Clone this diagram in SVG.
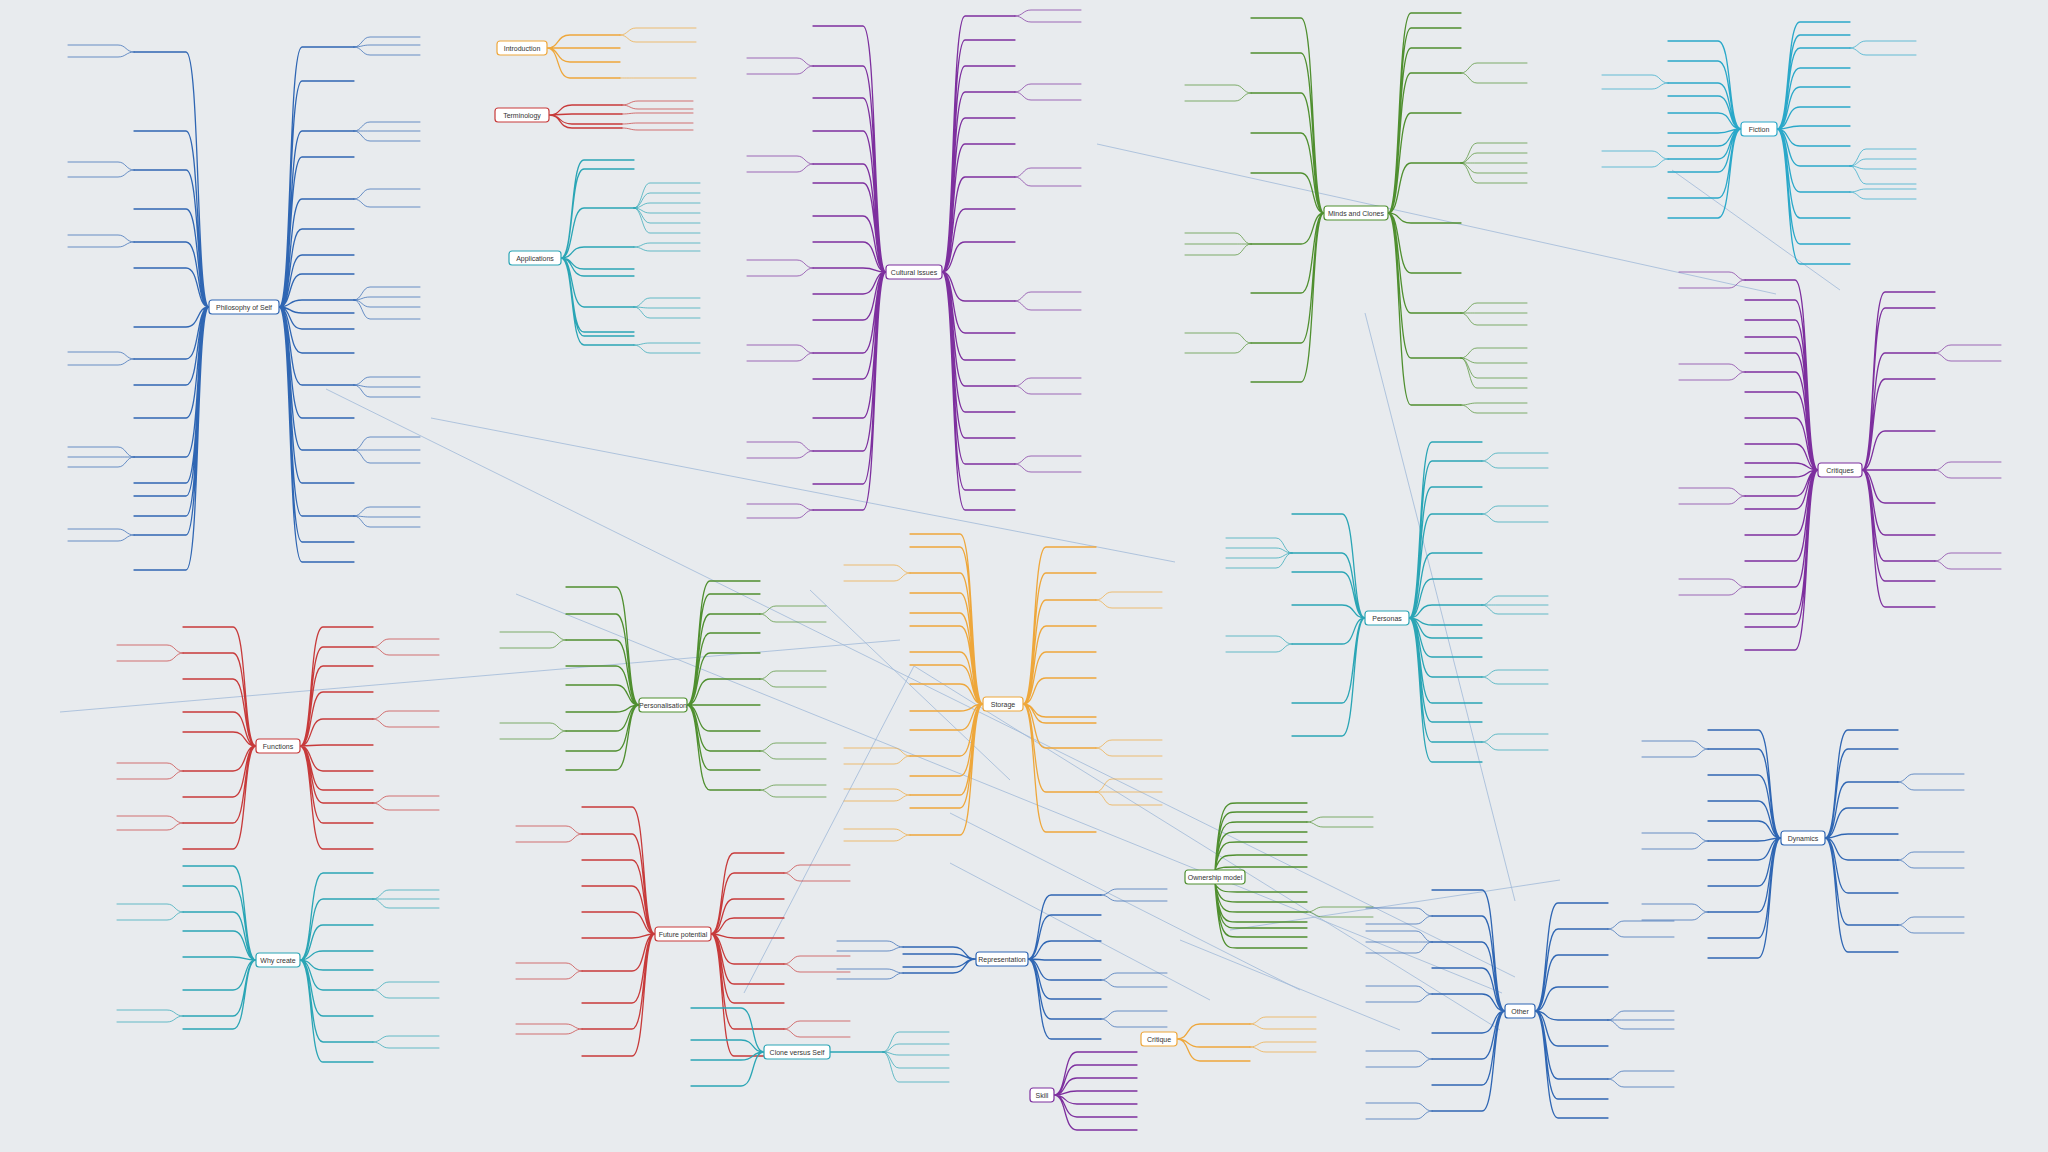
<svg xmlns="http://www.w3.org/2000/svg" width="2048" height="1152" viewBox="0 0 2048 1152">
<style>
.m{fill:none;stroke-width:1.3;stroke-linecap:round}
.s{fill:none;stroke-width:0.7;stroke-linecap:round}
.x{fill:none;stroke:#9fb9d8;stroke-width:0.8}
.box{fill:#ffffff;stroke-width:1.2}
.lbl{font-family:"Liberation Sans",Arial,sans-serif;font-size:7px;fill:#333;text-anchor:middle}
.blue{stroke:#2f66b3}.orange{stroke:#eea73b}.red{stroke:#c73a3a}.teal{stroke:#2aa5b5}.purple{stroke:#7d2f9e}.green{stroke:#4f8f2f}.cyan{stroke:#2aa8c9}
</style>
<rect width="2048" height="1152" fill="#e8ebee"/>
<g id="connectors">
<path class="x" d="M326 389L1515 977M431 418L1175 562M516 594L1502 993M1097 144L1776 294M1365 313L1515 901M744 993L914 666M914 666L1500 1030M950 813L1300 990M950 863L1210 1000M1180 940L1400 1030M1230 930L1560 880M810 590L1010 780M60 712L900 640M1672 170L1840 290"/>
</g>
<g id="n-philosophy" transform="translate(244,307)">
<path class="m blue" d="M35 0C48 0 44 -260 58 -260h52M35 0C48 0 44 -226 58 -226h52M35 0C48 0 44 -176 58 -176h52M35 0C48 0 44 -150 58 -150h52M35 0C48 0 44 -108 58 -108h52M35 0C48 0 44 -78 58 -78h52M35 0C48 0 44 -52 58 -52h52M35 0C48 0 44 -33 58 -33h52M35 0C48 0 44 -7 58 -7h52M35 0C48 0 44 6 58 6h52M35 0C48 0 44 22 58 22h52M35 0C48 0 44 46 58 46h52M35 0C48 0 44 78 58 78h52M35 0C48 0 44 111 58 111h52M35 0C48 0 44 143 58 143h52M35 0C48 0 44 176 58 176h52M35 0C48 0 44 209 58 209h52M35 0C48 0 44 235 58 235h52M35 0C48 0 44 255 58 255h52M-35 0C-48 0 -44 -255 -58 -255h-52M-35 0C-48 0 -44 -176 -58 -176h-52M-35 0C-48 0 -44 -137 -58 -137h-52M-35 0C-48 0 -44 -98 -58 -98h-52M-35 0C-48 0 -44 -65 -58 -65h-52M-35 0C-48 0 -44 -39 -58 -39h-52M-35 0C-48 0 -44 20 -58 20h-52M-35 0C-48 0 -44 52 -58 52h-52M-35 0C-48 0 -44 78 -58 78h-52M-35 0C-48 0 -44 111 -58 111h-52M-35 0C-48 0 -44 150 -58 150h-52M-35 0C-48 0 -44 176 -58 176h-52M-35 0C-48 0 -44 189 -58 189h-52M-35 0C-48 0 -44 209 -58 209h-52M-35 0C-48 0 -44 228 -58 228h-52M-35 0C-48 0 -44 263 -58 263h-52"/>
<path class="s blue" d="M110 -260C118 -260 118 -270 126 -270h50M110 -260C118 -260 118 -262 126 -262h50M110 -260C118 -260 118 -252 126 -252h50M110 -176C118 -176 118 -185 126 -185h50M110 -176C118 -176 118 -176 126 -176h50M110 -176C118 -176 118 -166 126 -166h50M110 -108C118 -108 118 -118 126 -118h50M110 -108C118 -108 118 -100 126 -100h50M110 -7C118 -7 118 -20 126 -20h50M110 -7C118 -7 118 -10 126 -10h50M110 -7C118 -7 118 0 126 0h50M110 -7C118 -7 118 12 126 12h50M110 78C118 78 118 70 126 70h50M110 78C118 78 118 80 126 80h50M110 78C118 78 118 90 126 90h50M110 143C118 143 118 130 126 130h50M110 143C118 143 118 143 126 143h50M110 143C118 143 118 156 126 156h50M110 209C118 209 118 200 126 200h50M110 209C118 209 118 210 126 210h50M110 209C118 209 118 220 126 220h50M-110 -255C-118 -255 -118 -262 -126 -262h-50M-110 -255C-118 -255 -118 -250 -126 -250h-50M-110 -137C-118 -137 -118 -145 -126 -145h-50M-110 -137C-118 -137 -118 -130 -126 -130h-50M-110 -65C-118 -65 -118 -72 -126 -72h-50M-110 -65C-118 -65 -118 -60 -126 -60h-50M-110 52C-118 52 -118 45 -126 45h-50M-110 52C-118 52 -118 58 -126 58h-50M-110 150C-118 150 -118 140 -126 140h-50M-110 150C-118 150 -118 150 -126 150h-50M-110 150C-118 150 -118 160 -126 160h-50M-110 228C-118 228 -118 222 -126 222h-50M-110 228C-118 228 -118 234 -126 234h-50"/>
<rect class="box blue" x="-35" y="-7" width="70" height="14" rx="3"/>
<text class="lbl" x="0" y="2.5">Philosophy of Self</text>
</g>
<g id="n-introduction" transform="translate(522,48)">
<path class="m orange" d="M25 0C38 0 34 -13 48 -13h50M25 0C38 0 34 0 48 0h50M25 0C38 0 34 14 48 14h50M25 0C38 0 34 30 48 30h50"/>
<path class="s orange" d="M98 -13C106 -13 106 -20 114 -20h60M98 -13C106 -13 106 -6 114 -6h60M98 30C106 30 106 30 114 30h60"/>
<rect class="box orange" x="-25" y="-7" width="50" height="14" rx="3"/>
<text class="lbl" x="0" y="2.5">Introduction</text>
</g>
<g id="n-terminology" transform="translate(522,115)">
<path class="m red" d="M27 0C40 0 36 -10 50 -10h50M27 0C40 0 36 -1 50 -1h50M27 0C40 0 36 9 50 9h50M27 0C40 0 36 13 50 13h50"/>
<path class="s red" d="M100 -10C108 -10 108 -14 116 -14h55M100 -10C108 -10 108 -6 116 -6h55M100 -1C108 -1 108 -2 116 -2h55M100 9C108 9 108 8 116 8h55M100 13C108 13 108 15 116 15h55"/>
<rect class="box red" x="-27" y="-7" width="54" height="14" rx="3"/>
<text class="lbl" x="0" y="2.5">Terminology</text>
</g>
<g id="n-applications" transform="translate(535,258)">
<path class="m teal" d="M26 0C39 0 35 -98 49 -98h50M26 0C39 0 35 -89 49 -89h50M26 0C39 0 35 -50 49 -50h50M26 0C39 0 35 -11 49 -11h50M26 0C39 0 35 11 49 11h50M26 0C39 0 35 18 49 18h50M26 0C39 0 35 49 49 49h50M26 0C39 0 35 74 49 74h50M26 0C39 0 35 78 49 78h50M26 0C39 0 35 87 49 87h50"/>
<path class="s teal" d="M99 -50C107 -50 107 -75 115 -75h50M99 -50C107 -50 107 -65 115 -65h50M99 -50C107 -50 107 -55 115 -55h50M99 -50C107 -50 107 -45 115 -45h50M99 -50C107 -50 107 -35 115 -35h50M99 -50C107 -50 107 -25 115 -25h50M99 -11C107 -11 107 -15 115 -15h50M99 -11C107 -11 107 -7 115 -7h50M99 49C107 49 107 40 115 40h50M99 49C107 49 107 50 115 50h50M99 49C107 49 107 60 115 60h50M99 87C107 87 107 85 115 85h50M99 87C107 87 107 95 115 95h50"/>
<rect class="box teal" x="-26" y="-7" width="52" height="14" rx="3"/>
<text class="lbl" x="0" y="2.5">Applications</text>
</g>
<g id="n-cultural" transform="translate(914,272)">
<path class="m purple" d="M-28 0C-41 0 -37 -246 -51 -246h-50M-28 0C-41 0 -37 -206 -51 -206h-50M-28 0C-41 0 -37 -174 -51 -174h-50M-28 0C-41 0 -37 -141 -51 -141h-50M-28 0C-41 0 -37 -108 -51 -108h-50M-28 0C-41 0 -37 -89 -51 -89h-50M-28 0C-41 0 -37 -56 -51 -56h-50M-28 0C-41 0 -37 -30 -51 -30h-50M-28 0C-41 0 -37 -4 -51 -4h-50M-28 0C-41 0 -37 22 -51 22h-50M-28 0C-41 0 -37 48 -51 48h-50M-28 0C-41 0 -37 81 -51 81h-50M-28 0C-41 0 -37 107 -51 107h-50M-28 0C-41 0 -37 146 -51 146h-50M-28 0C-41 0 -37 179 -51 179h-50M-28 0C-41 0 -37 212 -51 212h-50M-28 0C-41 0 -37 238 -51 238h-50M28 0C41 0 37 -256 51 -256h50M28 0C41 0 37 -232 51 -232h50M28 0C41 0 37 -206 51 -206h50M28 0C41 0 37 -180 51 -180h50M28 0C41 0 37 -154 51 -154h50M28 0C41 0 37 -128 51 -128h50M28 0C41 0 37 -95 51 -95h50M28 0C41 0 37 -63 51 -63h50M28 0C41 0 37 -30 51 -30h50M28 0C41 0 37 29 51 29h50M28 0C41 0 37 61 51 61h50M28 0C41 0 37 88 51 88h50M28 0C41 0 37 114 51 114h50M28 0C41 0 37 140 51 140h50M28 0C41 0 37 166 51 166h50M28 0C41 0 37 192 51 192h50M28 0C41 0 37 218 51 218h50M28 0C41 0 37 238 51 238h50"/>
<path class="s purple" d="M-101 -206C-109 -206 -109 -214 -117 -214h-50M-101 -206C-109 -206 -109 -198 -117 -198h-50M-101 -108C-109 -108 -109 -116 -117 -116h-50M-101 -108C-109 -108 -109 -100 -117 -100h-50M-101 -4C-109 -4 -109 -12 -117 -12h-50M-101 -4C-109 -4 -109 4 -117 4h-50M-101 81C-109 81 -109 73 -117 73h-50M-101 81C-109 81 -109 89 -117 89h-50M-101 179C-109 179 -109 170 -117 170h-50M-101 179C-109 179 -109 186 -117 186h-50M-101 238C-109 238 -109 232 -117 232h-50M-101 238C-109 238 -109 246 -117 246h-50M101 -256C109 -256 109 -262 117 -262h50M101 -256C109 -256 109 -250 117 -250h50M101 -180C109 -180 109 -188 117 -188h50M101 -180C109 -180 109 -172 117 -172h50M101 -95C109 -95 109 -104 117 -104h50M101 -95C109 -95 109 -86 117 -86h50M101 29C109 29 109 20 117 20h50M101 29C109 29 109 38 117 38h50M101 114C109 114 109 106 117 106h50M101 114C109 114 109 122 117 122h50M101 192C109 192 109 184 117 184h50M101 192C109 192 109 200 117 200h50"/>
<rect class="box purple" x="-28" y="-7" width="56" height="14" rx="3"/>
<text class="lbl" x="0" y="2.5">Cultural Issues</text>
</g>
<g id="n-minds" transform="translate(1356,213)">
<path class="m green" d="M-32 0C-45 0 -41 -195 -55 -195h-50M-32 0C-45 0 -41 -160 -55 -160h-50M-32 0C-45 0 -41 -120 -55 -120h-50M-32 0C-45 0 -41 -80 -55 -80h-50M-32 0C-45 0 -41 -40 -55 -40h-50M-32 0C-45 0 -41 31 -55 31h-50M-32 0C-45 0 -41 80 -55 80h-50M-32 0C-45 0 -41 130 -55 130h-50M-32 0C-45 0 -41 169 -55 169h-50M32 0C45 0 41 -200 55 -200h50M32 0C45 0 41 -185 55 -185h50M32 0C45 0 41 -165 55 -165h50M32 0C45 0 41 -140 55 -140h50M32 0C45 0 41 -100 55 -100h50M32 0C45 0 41 -50 55 -50h50M32 0C45 0 41 10 55 10h50M32 0C45 0 41 60 55 60h50M32 0C45 0 41 100 55 100h50M32 0C45 0 41 145 55 145h50M32 0C45 0 41 192 55 192h50"/>
<path class="s green" d="M105 -140C113 -140 113 -150 121 -150h50M105 -140C113 -140 113 -130 121 -130h50M105 -50C113 -50 113 -70 121 -70h50M105 -50C113 -50 113 -60 121 -60h50M105 -50C113 -50 113 -50 121 -50h50M105 -50C113 -50 113 -40 121 -40h50M105 -50C113 -50 113 -30 121 -30h50M105 100C113 100 113 90 121 90h50M105 100C113 100 113 100 121 100h50M105 100C113 100 113 112 121 112h50M105 145C113 145 113 135 121 135h50M105 145C113 145 113 150 121 150h50M105 145C113 145 113 165 121 165h50M105 145C113 145 113 175 121 175h50M105 192C113 192 113 190 121 190h50M105 192C113 192 113 200 121 200h50M-105 -120C-113 -120 -113 -128 -121 -128h-50M-105 -120C-113 -120 -113 -112 -121 -112h-50M-105 31C-113 31 -113 20 -121 20h-50M-105 31C-113 31 -113 31 -121 31h-50M-105 31C-113 31 -113 42 -121 42h-50M-105 130C-113 130 -113 120 -121 120h-50M-105 130C-113 130 -113 140 -121 140h-50"/>
<rect class="box green" x="-32" y="-7" width="64" height="14" rx="3"/>
<text class="lbl" x="0" y="2.5">Minds and Clones</text>
</g>
<g id="n-personas" transform="translate(1387,618)">
<path class="m teal" d="M22 0C35 0 31 -176 45 -176h50M22 0C35 0 31 -157 45 -157h50M22 0C35 0 31 -131 45 -131h50M22 0C35 0 31 -104 45 -104h50M22 0C35 0 31 -65 45 -65h50M22 0C35 0 31 -39 45 -39h50M22 0C35 0 31 -13 45 -13h50M22 0C35 0 31 7 45 7h50M22 0C35 0 31 20 45 20h50M22 0C35 0 31 39 45 39h50M22 0C35 0 31 59 45 59h50M22 0C35 0 31 85 45 85h50M22 0C35 0 31 104 45 104h50M22 0C35 0 31 124 45 124h50M22 0C35 0 31 144 45 144h50M-22 0C-35 0 -31 -104 -45 -104h-50M-22 0C-35 0 -31 -65 -45 -65h-50M-22 0C-35 0 -31 -46 -45 -46h-50M-22 0C-35 0 -31 -13 -45 -13h-50M-22 0C-35 0 -31 26 -45 26h-50M-22 0C-35 0 -31 85 -45 85h-50M-22 0C-35 0 -31 118 -45 118h-50"/>
<path class="s teal" d="M95 -157C103 -157 103 -165 111 -165h50M95 -157C103 -157 103 -150 111 -150h50M95 -104C103 -104 103 -112 111 -112h50M95 -104C103 -104 103 -96 111 -96h50M95 -13C103 -13 103 -22 111 -22h50M95 -13C103 -13 103 -13 111 -13h50M95 -13C103 -13 103 -4 111 -4h50M95 59C103 59 103 52 111 52h50M95 59C103 59 103 66 111 66h50M95 124C103 124 103 116 111 116h50M95 124C103 124 103 132 111 132h50M-95 -65C-103 -65 -103 -80 -111 -80h-50M-95 -65C-103 -65 -103 -70 -111 -70h-50M-95 -65C-103 -65 -103 -60 -111 -60h-50M-95 -65C-103 -65 -103 -50 -111 -50h-50M-95 26C-103 26 -103 18 -111 18h-50M-95 26C-103 26 -103 34 -111 34h-50"/>
<rect class="box teal" x="-22" y="-7" width="44" height="14" rx="3"/>
<text class="lbl" x="0" y="2.5">Personas</text>
</g>
<g id="n-fiction" transform="translate(1759,129)">
<path class="m cyan" d="M-18 0C-31 0 -27 -88 -41 -88h-50M-18 0C-31 0 -27 -68 -41 -68h-50M-18 0C-31 0 -27 -46 -41 -46h-50M-18 0C-31 0 -27 -33 -41 -33h-50M-18 0C-31 0 -27 -16 -41 -16h-50M-18 0C-31 0 -27 4 -41 4h-50M-18 0C-31 0 -27 17 -41 17h-50M-18 0C-31 0 -27 30 -41 30h-50M-18 0C-31 0 -27 43 -41 43h-50M-18 0C-31 0 -27 69 -41 69h-50M-18 0C-31 0 -27 89 -41 89h-50M18 0C31 0 27 -107 41 -107h50M18 0C31 0 27 -94 41 -94h50M18 0C31 0 27 -81 41 -81h50M18 0C31 0 27 -61 41 -61h50M18 0C31 0 27 -42 41 -42h50M18 0C31 0 27 -22 41 -22h50M18 0C31 0 27 -3 41 -3h50M18 0C31 0 27 17 41 17h50M18 0C31 0 27 37 41 37h50M18 0C31 0 27 63 41 63h50M18 0C31 0 27 89 41 89h50M18 0C31 0 27 115 41 115h50M18 0C31 0 27 135 41 135h50"/>
<path class="s cyan" d="M91 37C99 37 99 20 107 20h50M91 37C99 37 99 30 107 30h50M91 37C99 37 99 40 107 40h50M91 37C99 37 99 55 107 55h50M91 63C99 63 99 60 107 60h50M91 63C99 63 99 70 107 70h50M91 -81C99 -81 99 -88 107 -88h50M91 -81C99 -81 99 -74 107 -74h50M-91 -46C-99 -46 -99 -54 -107 -54h-50M-91 -46C-99 -46 -99 -40 -107 -40h-50M-91 30C-99 30 -99 22 -107 22h-50M-91 30C-99 30 -99 38 -107 38h-50"/>
<rect class="box cyan" x="-18" y="-7" width="36" height="14" rx="3"/>
<text class="lbl" x="0" y="2.5">Fiction</text>
</g>
<g id="n-critiques" transform="translate(1840,470)">
<path class="m purple" d="M-22 0C-35 0 -31 -190 -45 -190h-50M-22 0C-35 0 -31 -170 -45 -170h-50M-22 0C-35 0 -31 -150 -45 -150h-50M-22 0C-35 0 -31 -133 -45 -133h-50M-22 0C-35 0 -31 -117 -45 -117h-50M-22 0C-35 0 -31 -98 -45 -98h-50M-22 0C-35 0 -31 -78 -45 -78h-50M-22 0C-35 0 -31 -52 -45 -52h-50M-22 0C-35 0 -31 -26 -45 -26h-50M-22 0C-35 0 -31 -7 -45 -7h-50M-22 0C-35 0 -31 7 -45 7h-50M-22 0C-35 0 -31 26 -45 26h-50M-22 0C-35 0 -31 39 -45 39h-50M-22 0C-35 0 -31 65 -45 65h-50M-22 0C-35 0 -31 91 -45 91h-50M-22 0C-35 0 -31 117 -45 117h-50M-22 0C-35 0 -31 144 -45 144h-50M-22 0C-35 0 -31 157 -45 157h-50M-22 0C-35 0 -31 180 -45 180h-50M22 0C35 0 31 -178 45 -178h50M22 0C35 0 31 -162 45 -162h50M22 0C35 0 31 -117 45 -117h50M22 0C35 0 31 -91 45 -91h50M22 0C35 0 31 -39 45 -39h50M22 0C35 0 31 0 45 0h50M22 0C35 0 31 33 45 33h50M22 0C35 0 31 65 45 65h50M22 0C35 0 31 91 45 91h50M22 0C35 0 31 111 45 111h50M22 0C35 0 31 137 45 137h50"/>
<path class="s purple" d="M95 -117C103 -117 103 -125 111 -125h50M95 -117C103 -117 103 -109 111 -109h50M95 0C103 0 103 -8 111 -8h50M95 0C103 0 103 8 111 8h50M95 91C103 91 103 83 111 83h50M95 91C103 91 103 99 111 99h50M-95 -190C-103 -190 -103 -198 -111 -198h-50M-95 -190C-103 -190 -103 -182 -111 -182h-50M-95 -98C-103 -98 -103 -106 -111 -106h-50M-95 -98C-103 -98 -103 -90 -111 -90h-50M-95 26C-103 26 -103 18 -111 18h-50M-95 26C-103 26 -103 34 -111 34h-50M-95 117C-103 117 -103 109 -111 109h-50M-95 117C-103 117 -103 125 -111 125h-50"/>
<rect class="box purple" x="-22" y="-7" width="44" height="14" rx="3"/>
<text class="lbl" x="0" y="2.5">Critiques</text>
</g>
<g id="n-storage" transform="translate(1003,704)">
<path class="m orange" d="M-20 0C-33 0 -29 -170 -43 -170h-50M-20 0C-33 0 -29 -157 -43 -157h-50M-20 0C-33 0 -29 -131 -43 -131h-50M-20 0C-33 0 -29 -111 -43 -111h-50M-20 0C-33 0 -29 -91 -43 -91h-50M-20 0C-33 0 -29 -78 -43 -78h-50M-20 0C-33 0 -29 -52 -43 -52h-50M-20 0C-33 0 -29 -39 -43 -39h-50M-20 0C-33 0 -29 -20 -43 -20h-50M-20 0C-33 0 -29 7 -43 7h-50M-20 0C-33 0 -29 26 -43 26h-50M-20 0C-33 0 -29 52 -43 52h-50M-20 0C-33 0 -29 72 -43 72h-50M-20 0C-33 0 -29 91 -43 91h-50M-20 0C-33 0 -29 104 -43 104h-50M-20 0C-33 0 -29 131 -43 131h-50M20 0C33 0 29 -157 43 -157h50M20 0C33 0 29 -131 43 -131h50M20 0C33 0 29 -104 43 -104h50M20 0C33 0 29 -78 43 -78h50M20 0C33 0 29 -52 43 -52h50M20 0C33 0 29 -26 43 -26h50M20 0C33 0 29 13 43 13h50M20 0C33 0 29 19 43 19h50M20 0C33 0 29 44 43 44h50M20 0C33 0 29 88 43 88h50M20 0C33 0 29 128 43 128h50"/>
<path class="s orange" d="M93 44C101 44 101 36 109 36h50M93 44C101 44 101 52 109 52h50M93 88C101 88 101 75 109 75h50M93 88C101 88 101 88 109 88h50M93 88C101 88 101 101 109 101h50M93 -104C101 -104 101 -112 109 -112h50M93 -104C101 -104 101 -96 109 -96h50M-93 -131C-101 -131 -101 -139 -109 -139h-50M-93 -131C-101 -131 -101 -123 -109 -123h-50M-93 52C-101 52 -101 44 -109 44h-50M-93 52C-101 52 -101 60 -109 60h-50M-93 91C-101 91 -101 85 -109 85h-50M-93 91C-101 91 -101 97 -109 97h-50M-93 131C-101 131 -101 125 -109 125h-50M-93 131C-101 131 -101 137 -109 137h-50"/>
<rect class="box orange" x="-20" y="-7" width="40" height="14" rx="3"/>
<text class="lbl" x="0" y="2.5">Storage</text>
</g>
<g id="n-representation" transform="translate(1002,959)">
<path class="m blue" d="M26 0C39 0 35 -64 49 -64h50M26 0C39 0 35 -44 49 -44h50M26 0C39 0 35 -18 49 -18h50M26 0C39 0 35 1 49 1h50M26 0C39 0 35 21 49 21h50M26 0C39 0 35 40 49 40h50M26 0C39 0 35 60 49 60h50M26 0C39 0 35 80 49 80h50M-26 0C-39 0 -35 -12 -49 -12h-50M-26 0C-39 0 -35 -5 -49 -5h-50M-26 0C-39 0 -35 8 -49 8h-50M-26 0C-39 0 -35 14 -49 14h-50"/>
<path class="s blue" d="M99 -64C107 -64 107 -70 115 -70h50M99 -64C107 -64 107 -58 115 -58h50M99 21C107 21 107 14 115 14h50M99 21C107 21 107 28 115 28h50M99 60C107 60 107 52 115 52h50M99 60C107 60 107 68 115 68h50M-99 -12C-107 -12 -107 -18 -115 -18h-50M-99 -12C-107 -12 -107 -8 -115 -8h-50M-99 14C-107 14 -107 10 -115 10h-50M-99 14C-107 14 -107 20 -115 20h-50"/>
<rect class="box blue" x="-26" y="-7" width="52" height="14" rx="3"/>
<text class="lbl" x="0" y="2.5">Representation</text>
</g>
<g id="n-personalisation" transform="translate(663,705)">
<path class="m green" d="M-24 0C-37 0 -33 -118 -47 -118h-50M-24 0C-37 0 -33 -91 -47 -91h-50M-24 0C-37 0 -33 -65 -47 -65h-50M-24 0C-37 0 -33 -39 -47 -39h-50M-24 0C-37 0 -33 -20 -47 -20h-50M-24 0C-37 0 -33 7 -47 7h-50M-24 0C-37 0 -33 26 -47 26h-50M-24 0C-37 0 -33 46 -47 46h-50M-24 0C-37 0 -33 65 -47 65h-50M24 0C37 0 33 -124 47 -124h50M24 0C37 0 33 -111 47 -111h50M24 0C37 0 33 -91 47 -91h50M24 0C37 0 33 -72 47 -72h50M24 0C37 0 33 -52 47 -52h50M24 0C37 0 33 -26 47 -26h50M24 0C37 0 33 0 47 0h50M24 0C37 0 33 26 47 26h50M24 0C37 0 33 46 47 46h50M24 0C37 0 33 65 47 65h50M24 0C37 0 33 85 47 85h50"/>
<path class="s green" d="M97 -91C105 -91 105 -99 113 -99h50M97 -91C105 -91 105 -83 113 -83h50M97 -26C105 -26 105 -34 113 -34h50M97 -26C105 -26 105 -18 113 -18h50M97 46C105 46 105 38 113 38h50M97 46C105 46 105 54 113 54h50M97 85C105 85 105 80 113 80h50M97 85C105 85 105 92 113 92h50M-97 -65C-105 -65 -105 -73 -113 -73h-50M-97 -65C-105 -65 -105 -57 -113 -57h-50M-97 26C-105 26 -105 18 -113 18h-50M-97 26C-105 26 -105 34 -113 34h-50"/>
<rect class="box green" x="-24" y="-7" width="48" height="14" rx="3"/>
<text class="lbl" x="0" y="2.5">Personalisation</text>
</g>
<g id="n-future" transform="translate(683,934)">
<path class="m red" d="M-28 0C-41 0 -37 -127 -51 -127h-50M-28 0C-41 0 -37 -100 -51 -100h-50M-28 0C-41 0 -37 -74 -51 -74h-50M-28 0C-41 0 -37 -48 -51 -48h-50M-28 0C-41 0 -37 -22 -51 -22h-50M-28 0C-41 0 -37 4 -51 4h-50M-28 0C-41 0 -37 37 -51 37h-50M-28 0C-41 0 -37 69 -51 69h-50M-28 0C-41 0 -37 95 -51 95h-50M-28 0C-41 0 -37 122 -51 122h-50M28 0C41 0 37 -81 51 -81h50M28 0C41 0 37 -61 51 -61h50M28 0C41 0 37 -35 51 -35h50M28 0C41 0 37 -16 51 -16h50M28 0C41 0 37 4 51 4h50M28 0C41 0 37 30 51 30h50M28 0C41 0 37 50 51 50h50M28 0C41 0 37 69 51 69h50M28 0C41 0 37 95 51 95h50M28 0C41 0 37 122 51 122h50"/>
<path class="s red" d="M101 -61C109 -61 109 -69 117 -69h50M101 -61C109 -61 109 -53 117 -53h50M101 30C109 30 109 22 117 22h50M101 30C109 30 109 38 117 38h50M101 95C109 95 109 87 117 87h50M101 95C109 95 109 103 117 103h50M-101 -100C-109 -100 -109 -108 -117 -108h-50M-101 -100C-109 -100 -109 -92 -117 -92h-50M-101 37C-109 37 -109 29 -117 29h-50M-101 37C-109 37 -109 45 -117 45h-50M-101 95C-109 95 -109 90 -117 90h-50M-101 95C-109 95 -109 100 -117 100h-50"/>
<rect class="box red" x="-28" y="-7" width="56" height="14" rx="3"/>
<text class="lbl" x="0" y="2.5">Future potential</text>
</g>
<g id="n-functions" transform="translate(278,746)">
<path class="m red" d="M-22 0C-35 0 -31 -119 -45 -119h-50M-22 0C-35 0 -31 -93 -45 -93h-50M-22 0C-35 0 -31 -67 -45 -67h-50M-22 0C-35 0 -31 -34 -45 -34h-50M-22 0C-35 0 -31 -14 -45 -14h-50M-22 0C-35 0 -31 25 -45 25h-50M-22 0C-35 0 -31 51 -45 51h-50M-22 0C-35 0 -31 77 -45 77h-50M-22 0C-35 0 -31 103 -45 103h-50M22 0C35 0 31 -119 45 -119h50M22 0C35 0 31 -99 45 -99h50M22 0C35 0 31 -80 45 -80h50M22 0C35 0 31 -54 45 -54h50M22 0C35 0 31 -27 45 -27h50M22 0C35 0 31 -1 45 -1h50M22 0C35 0 31 25 45 25h50M22 0C35 0 31 44 45 44h50M22 0C35 0 31 57 45 57h50M22 0C35 0 31 77 45 77h50M22 0C35 0 31 103 45 103h50"/>
<path class="s red" d="M95 -99C103 -99 103 -107 111 -107h50M95 -99C103 -99 103 -91 111 -91h50M95 -27C103 -27 103 -35 111 -35h50M95 -27C103 -27 103 -19 111 -19h50M95 57C103 57 103 50 111 50h50M95 57C103 57 103 64 111 64h50M-95 -93C-103 -93 -103 -101 -111 -101h-50M-95 -93C-103 -93 -103 -85 -111 -85h-50M-95 25C-103 25 -103 17 -111 17h-50M-95 25C-103 25 -103 33 -111 33h-50M-95 77C-103 77 -103 70 -111 70h-50M-95 77C-103 77 -103 84 -111 84h-50"/>
<rect class="box red" x="-22" y="-7" width="44" height="14" rx="3"/>
<text class="lbl" x="0" y="2.5">Functions</text>
</g>
<g id="n-whycreate" transform="translate(278,960)">
<path class="m teal" d="M-22 0C-35 0 -31 -94 -45 -94h-50M-22 0C-35 0 -31 -74 -45 -74h-50M-22 0C-35 0 -31 -48 -45 -48h-50M-22 0C-35 0 -31 -29 -45 -29h-50M-22 0C-35 0 -31 -3 -45 -3h-50M-22 0C-35 0 -31 30 -45 30h-50M-22 0C-35 0 -31 56 -45 56h-50M-22 0C-35 0 -31 69 -45 69h-50M22 0C35 0 31 -87 45 -87h50M22 0C35 0 31 -61 45 -61h50M22 0C35 0 31 -35 45 -35h50M22 0C35 0 31 -9 45 -9h50M22 0C35 0 31 10 45 10h50M22 0C35 0 31 30 45 30h50M22 0C35 0 31 56 45 56h50M22 0C35 0 31 82 45 82h50M22 0C35 0 31 102 45 102h50"/>
<path class="s teal" d="M95 -61C103 -61 103 -70 111 -70h50M95 -61C103 -61 103 -61 111 -61h50M95 -61C103 -61 103 -52 111 -52h50M95 30C103 30 103 22 111 22h50M95 30C103 30 103 38 111 38h50M95 82C103 82 103 76 111 76h50M95 82C103 82 103 88 111 88h50M-95 -48C-103 -48 -103 -56 -111 -56h-50M-95 -48C-103 -48 -103 -40 -111 -40h-50M-95 56C-103 56 -103 50 -111 50h-50M-95 56C-103 56 -103 62 -111 62h-50"/>
<rect class="box teal" x="-22" y="-7" width="44" height="14" rx="3"/>
<text class="lbl" x="0" y="2.5">Why create</text>
</g>
<g id="n-ownership" transform="translate(1215,877)">
<path class="m green" d="M0 -7C5 -74 10 -74 22 -74h70M0 -7C5 -65 10 -65 22 -65h70M0 -7C5 -55 10 -55 22 -55h70M0 -7C5 -45 10 -45 22 -45h70M0 -7C5 -35 10 -35 22 -35h70M0 -7C5 -22 10 -22 22 -22h70M0 -7C5 -10 10 -10 22 -10h70M0 7C5 15 10 15 22 15h70M0 7C5 25 10 25 22 25h70M0 7C5 35 10 35 22 35h70M0 7C5 45 10 45 22 45h70M0 7C5 51 10 51 22 51h70M0 7C5 60 10 60 22 60h70M0 7C5 71 10 71 22 71h70"/>
<path class="s green" d="M92 35C100 35 100 30 108 30h50M92 35C100 35 100 40 108 40h50M92 -55C100 -55 100 -60 108 -60h50M92 -55C100 -55 100 -50 108 -50h50"/>
<rect class="box green" x="-30" y="-7" width="60" height="14" rx="3"/>
<text class="lbl" x="0" y="2.5">Ownership model</text>
</g>
<g id="n-other" transform="translate(1520,1011)">
<path class="m blue" d="M-15 0C-28 0 -24 -121 -38 -121h-50M-15 0C-28 0 -24 -95 -38 -95h-50M-15 0C-28 0 -24 -69 -38 -69h-50M-15 0C-28 0 -24 -43 -38 -43h-50M-15 0C-28 0 -24 -17 -38 -17h-50M-15 0C-28 0 -24 22 -38 22h-50M-15 0C-28 0 -24 48 -38 48h-50M-15 0C-28 0 -24 74 -38 74h-50M-15 0C-28 0 -24 100 -38 100h-50M15 0C28 0 24 -108 38 -108h50M15 0C28 0 24 -82 38 -82h50M15 0C28 0 24 -56 38 -56h50M15 0C28 0 24 -24 38 -24h50M15 0C28 0 24 9 38 9h50M15 0C28 0 24 35 38 35h50M15 0C28 0 24 68 38 68h50M15 0C28 0 24 88 38 88h50M15 0C28 0 24 107 38 107h50"/>
<path class="s blue" d="M-88 -95C-96 -95 -96 -103 -104 -103h-50M-88 -95C-96 -95 -96 -87 -104 -87h-50M-88 -69C-96 -69 -96 -80 -104 -80h-50M-88 -69C-96 -69 -96 -69 -104 -69h-50M-88 -69C-96 -69 -96 -58 -104 -58h-50M-88 -17C-96 -17 -96 -25 -104 -25h-50M-88 -17C-96 -17 -96 -9 -104 -9h-50M-88 48C-96 48 -96 40 -104 40h-50M-88 48C-96 48 -96 56 -104 56h-50M-88 100C-96 100 -96 92 -104 92h-50M-88 100C-96 100 -96 108 -104 108h-50M88 -82C96 -82 96 -90 104 -90h50M88 -82C96 -82 96 -74 104 -74h50M88 9C96 9 96 0 104 0h50M88 9C96 9 96 9 104 9h50M88 9C96 9 96 18 104 18h50M88 68C96 68 96 60 104 60h50M88 68C96 68 96 76 104 76h50"/>
<rect class="box blue" x="-15" y="-7" width="30" height="14" rx="3"/>
<text class="lbl" x="0" y="2.5">Other</text>
</g>
<g id="n-critique" transform="translate(1159,1039)">
<path class="m orange" d="M18 0C31 0 27 -15 41 -15h50M18 0C31 0 27 8 41 8h50M18 0C31 0 27 22 41 22h50"/>
<path class="s orange" d="M91 -15C99 -15 99 -22 107 -22h50M91 -15C99 -15 99 -10 107 -10h50M91 8C99 8 99 3 107 3h50M91 8C99 8 99 13 107 13h50"/>
<rect class="box orange" x="-18" y="-7" width="36" height="14" rx="3"/>
<text class="lbl" x="0" y="2.5">Critique</text>
</g>
<g id="n-skill" transform="translate(1042,1095)">
<path class="m purple" d="M12 0C25 0 21 -43 35 -43h60M12 0C25 0 21 -30 35 -30h60M12 0C25 0 21 -17 35 -17h60M12 0C25 0 21 -4 35 -4h60M12 0C25 0 21 9 35 9h60M12 0C25 0 21 22 35 22h60M12 0C25 0 21 35 35 35h60"/>
<rect class="box purple" x="-12" y="-7" width="24" height="14" rx="3"/>
<text class="lbl" x="0" y="2.5">Skill</text>
</g>
<g id="n-dynamics" transform="translate(1803,838)">
<path class="m blue" d="M-22 0C-35 0 -31 -108 -45 -108h-50M-22 0C-35 0 -31 -89 -45 -89h-50M-22 0C-35 0 -31 -63 -45 -63h-50M-22 0C-35 0 -31 -37 -45 -37h-50M-22 0C-35 0 -31 -17 -45 -17h-50M-22 0C-35 0 -31 3 -45 3h-50M-22 0C-35 0 -31 22 -45 22h-50M-22 0C-35 0 -31 48 -45 48h-50M-22 0C-35 0 -31 74 -45 74h-50M-22 0C-35 0 -31 100 -45 100h-50M-22 0C-35 0 -31 120 -45 120h-50M22 0C35 0 31 -108 45 -108h50M22 0C35 0 31 -89 45 -89h50M22 0C35 0 31 -56 45 -56h50M22 0C35 0 31 -30 45 -30h50M22 0C35 0 31 -4 45 -4h50M22 0C35 0 31 22 45 22h50M22 0C35 0 31 55 45 55h50M22 0C35 0 31 87 45 87h50M22 0C35 0 31 114 45 114h50"/>
<path class="s blue" d="M-95 -89C-103 -89 -103 -97 -111 -97h-50M-95 -89C-103 -89 -103 -81 -111 -81h-50M-95 3C-103 3 -103 -5 -111 -5h-50M-95 3C-103 3 -103 11 -111 11h-50M-95 74C-103 74 -103 66 -111 66h-50M-95 74C-103 74 -103 82 -111 82h-50M95 -56C103 -56 103 -64 111 -64h50M95 -56C103 -56 103 -48 111 -48h50M95 22C103 22 103 14 111 14h50M95 22C103 22 103 30 111 30h50M95 87C103 87 103 79 111 79h50M95 87C103 87 103 95 111 95h50"/>
<rect class="box blue" x="-22" y="-7" width="44" height="14" rx="3"/>
<text class="lbl" x="0" y="2.5">Dynamics</text>
</g>
<g id="n-clonevsself" transform="translate(797,1052)">
<path class="m teal" d="M-33 0C-46 0 -42 -44 -56 -44h-50M-33 0C-46 0 -42 -12 -56 -12h-50M-33 0C-46 0 -42 8 -56 8h-50M-33 0C-46 0 -42 34 -56 34h-50M33 0H86"/>
<path class="s teal" d="M86 0C94 0 94 -20 102 -20h50M86 0C94 0 94 -8 102 -8h50M86 0C94 0 94 3 102 3h50M86 0C94 0 94 16 102 16h50M86 0C94 0 94 30 102 30h50"/>
<rect class="box teal" x="-33" y="-7" width="66" height="14" rx="3"/>
<text class="lbl" x="0" y="2.5">Clone versus Self</text>
</g>
</svg>
